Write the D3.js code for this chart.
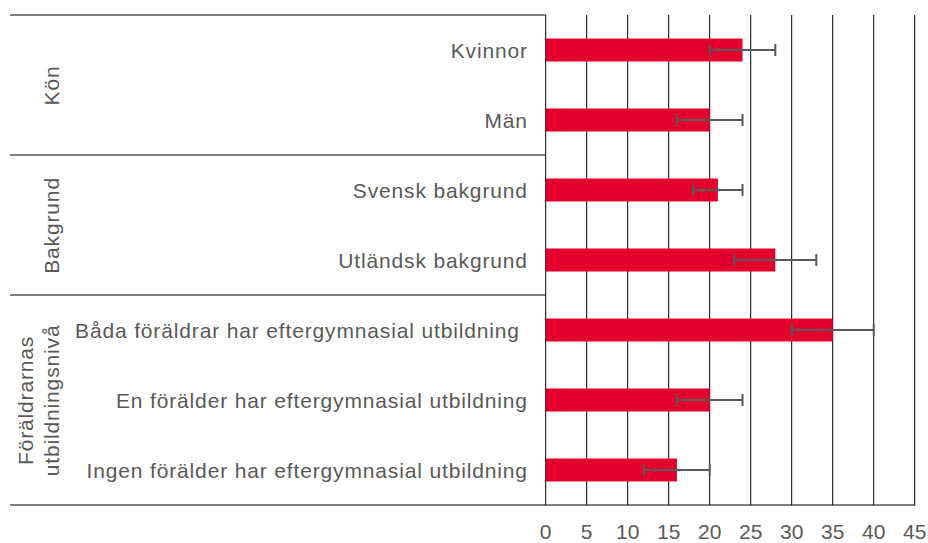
<!DOCTYPE html>
<html>
<head>
<meta charset="utf-8">
<script src="https://cdn.jsdelivr.net/npm/d3@7"></script>
<style>
  body { margin: 0; background: #fff; }
  svg text { font-family: "Liberation Sans", Arial, sans-serif; fill: #595959; }
</style>
</head>
<body>
<svg id="chart" width="928" height="543"></svg>
<script>
// data
const categories = [
  "Kvinnor",
  "Män",
  "Svensk bakgrund",
  "Utländsk bakgrund",
  "Båda föräldrar har eftergymnasial utbildning",
  "En förälder har eftergymnasial utbildning",
  "Ingen förälder har eftergymnasial utbildning",
];
const values = [24, 20, 21, 28, 35, 20, 16];
const errLow = [20, 16, 18, 23, 30, 16, 12];
const errHigh = [28, 24, 24, 33, 40, 24, 20];
const groups = [
  { lines: ["Kön"], from: 0, to: 1 },
  { lines: ["Bakgrund"], from: 2, to: 3 },
  { lines: ["Föräldrarnas", "utbildningsnivå"], from: 4, to: 6 },
];
const xTicks = [0, 5, 10, 15, 20, 25, 30, 35, 40, 45];

const svg = d3.select("#chart");
const plotLeft = 545.7, plotRight = 914.7, plotTop = 15, plotBottom = 505;
const fontSize = 21, spacing = 0.85;

const x = d3.scaleLinear().domain([0, 45]).range([plotLeft, plotRight]);
const pad = 1 - 23 / 70;
const y = d3.scaleBand().domain(categories).range([plotTop, plotBottom])
  .paddingInner(pad).paddingOuter(pad / 2);
const step = y.step();

// gridlines
svg.append("g")
  .selectAll("line")
  .data(xTicks)
  .join("line")
  .attr("x1", d => x(d)).attr("x2", d => x(d))
  .attr("y1", plotTop).attr("y2", plotBottom)
  .attr("stroke", "#000").attr("stroke-width", 1);

// group lines on the left
const bounds = [plotTop, ...groups.map(g => plotTop + (g.to + 1) * step)];
svg.append("g")
  .selectAll("line")
  .data(bounds.slice(0, -1))
  .join("line")
  .attr("x1", 10).attr("x2", plotLeft)
  .attr("y1", d => d).attr("y2", d => d)
  .attr("stroke", "#000").attr("stroke-width", 1);

svg.append("line")
  .attr("x1", 10).attr("x2", plotRight + 0.5)
  .attr("y1", plotBottom).attr("y2", plotBottom)
  .attr("stroke", "#000").attr("stroke-width", 1);

// bars
svg.append("g")
  .selectAll("rect")
  .data(categories)
  .join("rect")
  .attr("x", x(0))
  .attr("y", d => y(d))
  .attr("width", (d, i) => x(values[i]) - x(0))
  .attr("height", y.bandwidth())
  .attr("fill", "#e3002c");

// error bars
const eb = svg.append("g").attr("stroke", "#595959").attr("stroke-width", 2);
categories.forEach((c, i) => {
  const cy = y(c) + y.bandwidth() / 2;
  eb.append("line").attr("x1", x(errLow[i])).attr("x2", x(errHigh[i]))
    .attr("y1", cy).attr("y2", cy);
  [errLow[i], errHigh[i]].forEach(v => {
    eb.append("line").attr("x1", x(v)).attr("x2", x(v))
      .attr("y1", cy - 6).attr("y2", cy + 6);
  });
});

// category labels
svg.append("g")
  .selectAll("text")
  .data(categories)
  .join("text")
  .attr("x", (d, i) => (i === 4 ? 519 : 527) + spacing)
  .attr("y", d => y(d) + y.bandwidth() / 2 + 7.5)
  .attr("text-anchor", "end")
  .attr("font-size", fontSize)
  .attr("letter-spacing", spacing)
  .text(d => d);

// group labels
groups.forEach(g => {
  const cy = plotTop + (g.from + g.to + 1) / 2 * step;
  const xs = g.lines.length === 1 ? [59] : [33, 59];
  g.lines.forEach((t, k) => {
    svg.append("text")
      .attr("transform", `translate(${xs[k]},${cy + spacing / 2}) rotate(-90)`)
      .attr("text-anchor", "middle")
      .attr("font-size", fontSize)
      .attr("letter-spacing", spacing)
      .text(t);
  });
});

// x tick labels
svg.append("g")
  .selectAll("text")
  .data(xTicks)
  .join("text")
  .attr("x", d => x(d))
  .attr("y", 539)
  .attr("text-anchor", "middle")
  .attr("font-size", fontSize)
  .text(d => d);
</script>
</body>
</html>
